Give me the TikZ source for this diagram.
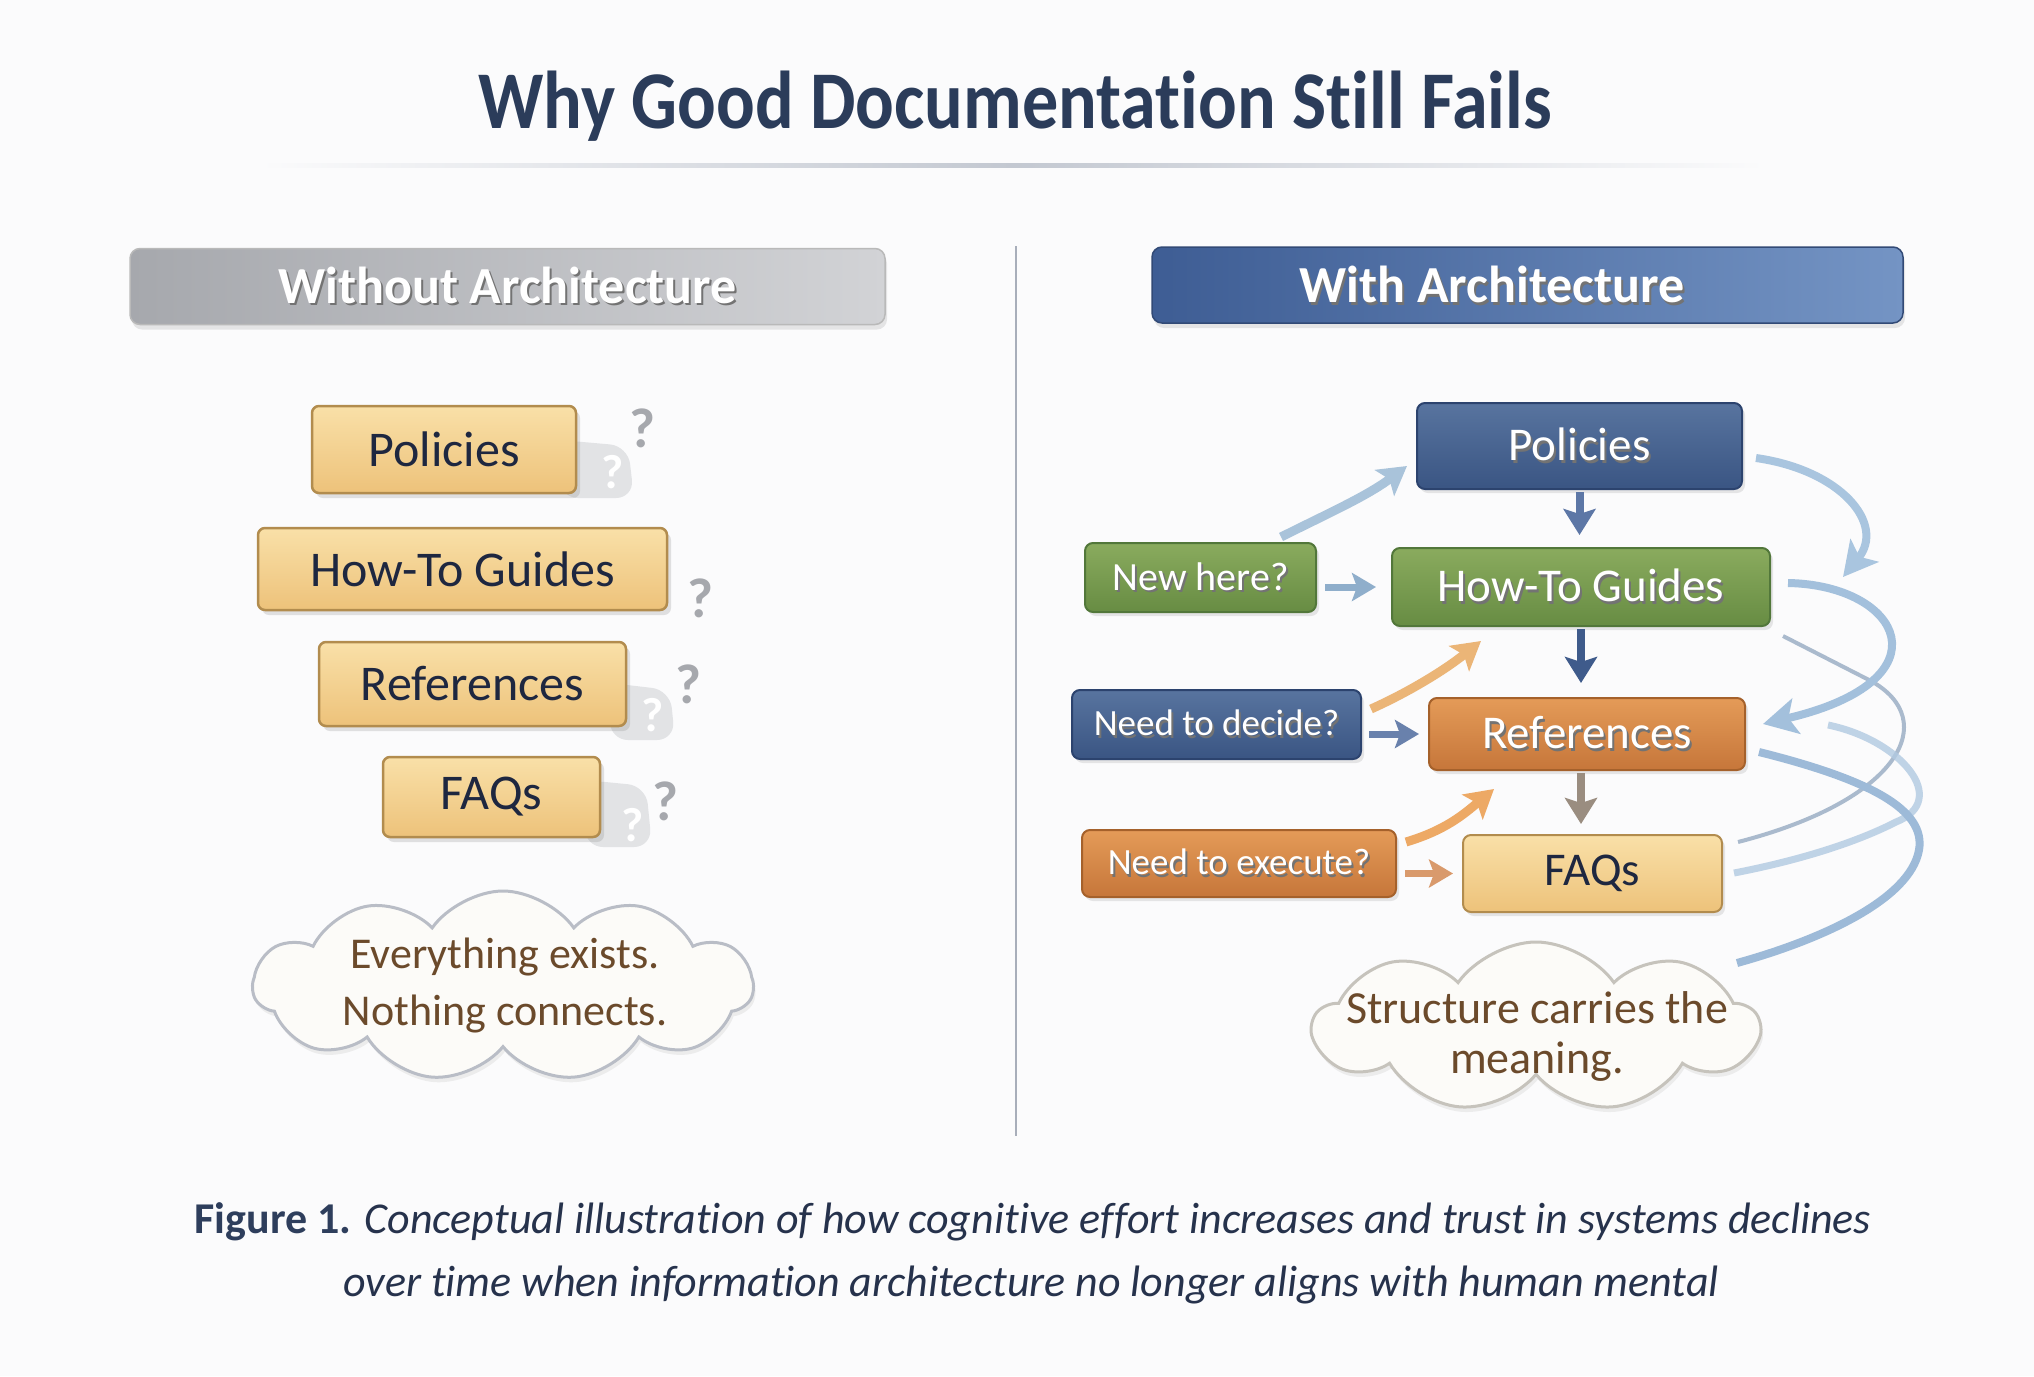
\documentclass[tikz,border=0pt]{standalone}
\usepackage{fontspec}
\setmainfont{Carlito}[RawFeature={-liga;-clig;-calt;-dlig;-rlig;-hlig}]
\newfontfamily\ttlfont[FakeStretch=0.88,RawFeature={-liga;-clig;-calt;-dlig;-rlig;-hlig}]{Carlito}
\usetikzlibrary{arrows.meta,shadows,shapes.symbols,calc}
\definecolor{bgc}{HTML}{FBFBFC}
\definecolor{navy}{HTML}{1E2740}
\definecolor{ttl}{HTML}{2B3C5A}
\definecolor{capc}{HTML}{26324C}
\definecolor{capb}{HTML}{2E3E5C}
\definecolor{lineC}{HTML}{C3C8D1}
\definecolor{divC}{HTML}{A8AEBA}
\definecolor{grayL}{HTML}{A6A8AD}
\definecolor{grayR}{HTML}{D2D3D6}
\definecolor{blueL}{HTML}{3E5D94}
\definecolor{blueR}{HTML}{7494C4}
\definecolor{oldtop}{HTML}{F9E0A8}
\definecolor{oldbot}{HTML}{EDC27A}
\definecolor{oldedge}{HTML}{B28C4E}
\definecolor{bluetop}{HTML}{58749F}
\definecolor{bluebot}{HTML}{3A5583}
\definecolor{blueedge}{HTML}{2C436E}
\definecolor{greentop}{HTML}{8AAB5E}
\definecolor{greenbot}{HTML}{678C43}
\definecolor{greenedge}{HTML}{52773A}
\definecolor{orgtop}{HTML}{E49B58}
\definecolor{orgbot}{HTML}{C6763A}
\definecolor{orgedge}{HTML}{A5612B}
\definecolor{brownT}{HTML}{6B4A2B}
\definecolor{qgray}{HTML}{A6A8AD}
\definecolor{blobC}{HTML}{DCDDE0}
\definecolor{cloudfill}{HTML}{FCFBF8}
\definecolor{cloudedge}{HTML}{B9BDC6}
\definecolor{cloudedgeB}{HTML}{C6C3BC}
\definecolor{arNew}{HTML}{8FAECB}
\definecolor{arDec}{HTML}{6981AC}
\definecolor{arExe}{HTML}{D99A6C}
\definecolor{arD1}{HTML}{5D77A6}
\definecolor{arD2}{HTML}{3F5B8B}
\definecolor{arD3}{HTML}{9A8D80}
\definecolor{arUp}{HTML}{A9C3DA}
\definecolor{arOr1}{HTML}{EBB577}
\definecolor{arOr2}{HTML}{EDA965}
\definecolor{swA}{HTML}{A9C5DF}
\definecolor{swB}{HTML}{A3C0DC}
\definecolor{swC}{HTML}{8FA5BE}
\definecolor{swD}{HTML}{B1C9E1}
\definecolor{swE}{HTML}{9DBAD8}
\newcommand\shtxt[1]{\rlap{\kern2pt\raisebox{-2.5pt}{\textcolor{black!55}{#1}}}\textcolor{white}{#1}}
\newcommand\zk{\kern0pt }
\begin{document}
\begin{tikzpicture}[x=1pt,y=-1pt,
  oldbox/.style={rounded corners=7pt, draw=oldedge, line width=2.5pt, top color=oldtop, bottom color=oldbot, text=navy, font=\fontsize{50}{58}\selectfont, inner sep=0pt, drop shadow={shadow xshift=4pt,shadow yshift=-5pt,opacity=0.22}},
  newbox/.style={rounded corners=8pt, line width=2pt, inner sep=0pt, drop shadow={shadow xshift=3pt,shadow yshift=-4pt,opacity=0.18}},
  bluebx/.style={newbox, draw=blueedge, top color=bluetop, bottom color=bluebot},
  greenbx/.style={newbox, draw=greenedge, top color=greentop, bottom color=greenbot},
  orgbx/.style={newbox, draw=orgedge, top color=orgtop, bottom color=orgbot},
  yelbx/.style={newbox, draw=oldedge, top color=oldtop, bottom color=oldbot, text=navy},
  bigtxt/.style={font=\fontsize{47}{55}\selectfont},
  smalltxt/.style={font=\fontsize{37}{44}\selectfont},
  hdr/.style={rounded corners=10pt, line width=1.5pt, minimum height=76pt, inner sep=0pt, font=\bfseries\fontsize{52}{60}\selectfont, drop shadow={shadow xshift=2pt,shadow yshift=-5pt,opacity=0.18}},
  qm/.style={font=\bfseries\fontsize{56}{56}\selectfont, text=qgray, inner sep=0pt},
  qw/.style={font=\bfseries\fontsize{48}{48}\selectfont, text=white, inner sep=0pt},
  flowarr/.style={line width=8pt, -{Stealth[length=26pt,width=32pt,inset=5pt]}},
  sidearr/.style={line width=7pt, -{Stealth[length=24pt,width=28pt,inset=5pt]}},
  curvarr/.style={line width=9pt, -{Stealth[length=28pt,width=32pt,inset=6pt]}},
  swarr/.style={line width=8pt, -{Stealth[length=34pt,width=36pt,inset=8pt]}},
  cloudbox/.style={cloud, cloud puff arc=110, aspect=2.5, line width=3pt, fill=cloudfill, inner sep=0pt, drop shadow={shadow xshift=2pt,shadow yshift=-5pt,opacity=0.12}},
  cloudtxt/.style={align=center, text=brownT, inner sep=0pt}
]
\useasboundingbox (0,0) rectangle (2034,1376);
\fill[bgc] (0,0) rectangle (2034,1376);

% title
\node[anchor=base, font=\ttlfont\bfseries\fontsize{82}{90}\selectfont, text=ttl] (title) at (1015,128) {Why Good Documentat\zk ion Stil\zk l Fails};
\shade[left color=bgc, right color=bgc, middle color=lineC] (260,163) rectangle (1765,167);

% headers
\node[hdr, draw=gray!55, left color=grayL, right color=grayR, minimum width=755pt] (hL) at (507.5,286.5) {\shtxt{Without Architecture}};
\node[hdr, draw=blueL!80!black, left color=blueL, right color=blueR, minimum width=751pt] (hR) at (1527.5,285) {};
\node[font=\bfseries\fontsize{52}{60}\selectfont, inner sep=0pt] (hRt) at (1492,286) {\shtxt{With Architecture}};

% divider
\draw[divC, line width=2pt] (1016,246) -- (1016,1136);

% ---------- left panel ----------
\fill[blobC, rounded corners=18pt, opacity=0.8] (560,440) -- (628,446) -- (634,498) -- (560,498) -- cycle;
\fill[blobC, rounded corners=18pt, opacity=0.8] (610,683) -- (670,690) -- (675,740) -- (610,740) -- cycle;
\fill[blobC, rounded corners=18pt, opacity=0.8] (585,780) -- (646,786) -- (652,847) -- (585,847) -- cycle;

\node[oldbox, minimum width=264pt, minimum height=87pt] (lpol) at (444,449.5) {Policies};
\node[oldbox, minimum width=409pt, minimum height=82pt] (lhow) at (462.5,569) {How-To Guides};
\node[oldbox, minimum width=307pt, minimum height=84pt] (lref) at (472.5,684) {References};
\node[oldbox, minimum width=217pt, minimum height=80pt] (lfaq) at (491.5,797) {FAQs};

\node[qm] (q1) at (642,428) {?};
\node[qw] (q1w) at (613,472) {?};
\node[qm] (q2) at (700,598) {?};
\node[qm] (q3) at (688,684) {?};
\node[qw] (q3w) at (653,715) {?};
\node[qm] (q4) at (665,801) {?};
\node[qw] (q4w) at (633,825) {?};

\node[cloudbox, draw=cloudedge, cloud puffs=11, minimum width=500pt, minimum height=190pt] (cl1) at (503,986) {};
\node[cloudtxt, font=\fontsize{44}{57}\selectfont] (cl1t) at (505,985) {Everything exists.\\Nothing connects.};

% ---------- right panel ----------
\node[bluebx, minimum width=325pt, minimum height=86pt, bigtxt] (pol) at (1579.5,446) {\shtxt{Policies}};
\node[greenbx, minimum width=378pt, minimum height=78pt, bigtxt] (how) at (1581,587) {\shtxt{How-To Guides}};
\node[orgbx, minimum width=316pt, minimum height=72pt, bigtxt] (ref) at (1587,734) {\shtxt{References}};
\node[yelbx, minimum width=259pt, minimum height=77pt, bigtxt] (faq) at (1592.5,873.5) {FAQs};

\node[greenbx, minimum width=231pt, minimum height=69pt, font=\fontsize{40}{46}\selectfont] (new) at (1200.5,577.5) {\shtxt{New here?}};
\node[bluebx, minimum width=289pt, minimum height=69pt, smalltxt] (dec) at (1216.5,724.5) {\shtxt{Need to decide?}};
\node[orgbx, minimum width=314pt, minimum height=67pt, smalltxt] (exe) at (1239,863.5) {\shtxt{Need to execute?}};

% vertical flow
\draw[flowarr, arD1, shorten <=2pt, shorten >=12pt] (pol.south) -- (pol.south |- how.north);
\draw[flowarr, arD2, shorten <=2pt, shorten >=14pt] (how.south) -- (how.south |- ref.north);
\draw[flowarr, arD3, shorten <=2pt, shorten >=10pt] (how.south |- ref.south) -- (how.south |- faq.north);

% side arrows
\draw[sidearr, arNew, shorten <=8pt, shorten >=15pt] (new.east |- how.west) -- (how.west);
\draw[sidearr, arDec, shorten <=7pt, shorten >=9pt] (dec.east |- ref.west) -- (ref.west);
\draw[sidearr, arExe, shorten <=8pt, shorten >=9pt] (exe.east |- faq.west) -- (faq.west);

% curved arrows from questions
\draw[curvarr, arUp] ($(new.north east)+(-36,-5)$) .. controls +(50,-25) and +(-40,30) .. ($(pol.south west)+(-9,-24)$);
\draw[curvarr, arOr1] ($(dec.north east)+(9,20)$) .. controls +(40,-18) and +(-35,28) .. ($(how.south west)+(90,14)$);
\draw[curvarr, arOr2] ($(exe.north east)+(9,13)$) .. controls +(40,-12) and +(-30,25) .. ($(ref.south west)+(66,18)$);

% cloud (right)
\node[cloudbox, draw=cloudedgeB, cloud puffs=9, minimum width=445pt, minimum height=170pt] (cl2) at (1536,1027) {};
\node[cloudtxt, font=\fontsize{46}{50}\selectfont] (cl2t) at (1537,1036) {Structure carries the\\meaning.};

% swooping links on the right
\draw[swarr, swA] ($(pol.east)+(13,12)$) .. controls ($(pol.east)+(98,24)$) and ($(how.north east)+(115,-23)$) .. ($(how.north east)+(72,30)$);
\draw[line width=4pt, swC, opacity=0.75] ($(how.south east)+(12,9)$) -- ($(how.south east)+(100,54)$) .. controls ($(faq.east)+(218,-153.5)$) and ($(faq.east)+(178,-73.5)$) .. ($(faq.east)+(15,-31.5)$);
\draw[line width=7pt, swD, opacity=0.8] ($(ref.east)+(82,-9)$) .. controls ($(ref.east)+(155,6)$) and ($(ref.east)+(205,66)$) .. ($(faq.east)+(173,-51.5)$) .. controls ($(faq.east)+(128,-28.5)$) and ($(faq.east)+(68,-11.5)$) .. ($(faq.east)+(11,-0.5)$);
\draw[swarr, swB] ($(how.east)+(17,-4)$) .. controls ($(how.east)+(130,-2)$) and ($(ref.east)+(205,-54)$) .. ($(ref.east)+(17,-10)$);
\draw[line width=8pt, swE] ($(ref.east)+(13,18)$) .. controls ($(ref.east)+(125,46)$) and ($(ref.east)+(180,76)$) .. ($(ref.east)+(173,116)$) .. controls ($(cl2.center)+(374,-127)$) and ($(cl2.center)+(284,-87)$) .. ($(cl2.center)+(201,-64)$);

% caption
\node[anchor=base, font=\fontsize{44}{50}\selectfont, text=capc, inner sep=0pt] (cap1) at (1033,1233) {\textcolor{capb}{\bfseries Figure 1.} \itshape Conceptual il\zk lustrat\zk ion of how cognit\zk ive ef\zk fort increases and trust in systems declines};
\node[anchor=base, font=\fontsize{44}{50}\selectfont\itshape, text=capc, inner sep=0pt] (cap2) at (1031,1296) {over t\zk ime when informat\zk ion architecture no longer aligns with human mental};
\end{tikzpicture}
\end{document}
